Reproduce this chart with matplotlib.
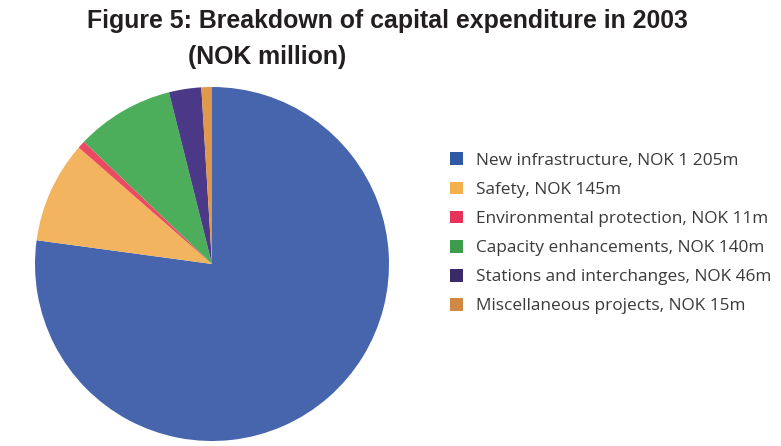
import matplotlib
matplotlib.use("Agg")
import matplotlib.pyplot as plt
from matplotlib.patches import Patch

# capital expenditure 2003, NOK million
categories = [
    "New infrastructure",
    "Safety",
    "Environmental protection",
    "Capacity enhancements",
    "Stations and interchanges",
    "Miscellaneous projects",
]
values = [1205, 145, 11, 140, 46, 15]
value_labels = ["NOK 1 205m", "NOK 145m", "NOK 11m", "NOK 140m", "NOK 46m", "NOK 15m"]

wedge_colors = ["#4665ac", "#f2b45e", "#ec4a63", "#4cad5a", "#4b3886", "#e0984a"]
legend_colors = ["#3059a5", "#f3b04c", "#e6335a", "#3d9b4c", "#3a2a68", "#d08a46"]

W, H = 781, 446
fig = plt.figure(figsize=(W / 100, H / 100), dpi=100)
fig.patch.set_facecolor("white")

# pie axes placed in pixel terms so the disc sits left of the legend
cx, cy, r = 212, 264, 177
ax = fig.add_axes([(cx - r) / W, (H - cy - r) / H, 2 * r / W, 2 * r / H])
ax.pie(values, colors=wedge_colors, startangle=90, counterclock=False,
       radius=1.0, wedgeprops=dict(linewidth=0))
ax.set_xlim(-1, 1)
ax.set_ylim(-1, 1)
ax.set_aspect("equal")
ax.axis("off")

title_font = ["Liberation Sans", "DejaVu Sans"]
fig.text(387 / W, 1 - 21 / H, "Figure 5: Breakdown of capital expenditure in 2003",
         ha="center", va="center", fontsize=17.9, fontweight="bold",
         family=title_font, color="#231f20")
fig.text(267 / W, 1 - 57 / H, "(NOK million)",
         ha="center", va="center", fontsize=17.9, fontweight="bold",
         family=title_font, color="#231f20")

handles = [Patch(facecolor=c, edgecolor="none") for c in legend_colors]
labels = [f"{c}, {v}" for c, v in zip(categories, value_labels)]
leg = fig.legend(handles, labels, loc="upper left",
                 bbox_to_anchor=(434 / W, 1 - 137 / H),
                 frameon=False, handlelength=0.76,
                 handleheight=0.76, handletextpad=0.8, labelspacing=0.74,
                 prop=dict(family=["Open Sans", "DejaVu Sans"], size=12.4))
for t in leg.get_texts():
    t.set_color("#3a3a3a")

fig.savefig("out.png", dpi=100, facecolor="white")
